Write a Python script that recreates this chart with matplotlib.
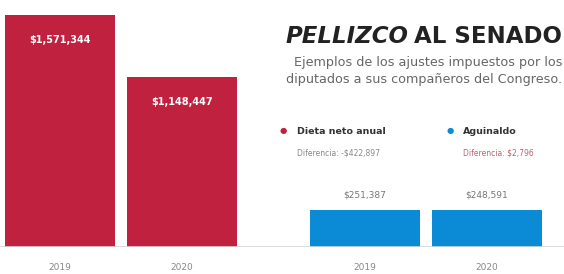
import matplotlib.pyplot as plt

# data
years = ['2019', '2020', '2019', '2020']
dieta = [1571344, 1148447]
aguinaldo = [251387, 248591]
dieta_labels = ['$1,571,344', '$1,148,447']
aguinaldo_labels = ['$251,387', '$248,591']
dif_dieta = 'Diferencia: -$422,897'
dif_aguinaldo = 'Diferencia: $2,796'

red = '#c0213f'
blue = '#0b8bd6'
W, H = 564, 274

fig = plt.figure(figsize=(W / 100, H / 100), dpi=100)
fig.patch.set_facecolor('white')

# bars share one axes; baseline at 247px from top
ax = fig.add_axes([0, 27 / H, 1, 232 / H])
xpos = [0, 1, 2.5, 3.5]
ax.set_xlim(-60 / 122, -60 / 122 + W / 122)
ax.set_ylim(0, dieta[0])
ax.bar(xpos[:2], dieta, width=0.9, color=red)
ax.bar(xpos[2:], aguinaldo, width=0.9, color=blue)
ax.axhline(0, color='#d5d5d5', lw=1.2)
ax.axis('off')

for x, v, lab in zip(xpos[:2], dieta, dieta_labels):
    ax.annotate(lab, (x, v), xytext=(0, -25), textcoords='offset pixels',
                ha='center', va='center', color='white', fontsize=7, fontweight='bold')
for x, v, lab in zip(xpos[2:], aguinaldo, aguinaldo_labels):
    ax.annotate(lab, (x, v), xytext=(0, 15), textcoords='offset pixels',
                ha='center', va='center', color='#777777', fontsize=6.5)
for x, y in zip(xpos, years):
    ax.annotate(y, (x, 0), xytext=(0, -20), textcoords='offset pixels',
                ha='center', va='center', color='#888888', fontsize=6.5, annotation_clip=False)

# title: italic part placed right before the upright part
t2 = fig.text(562 / W, 1 - 36 / H, 'AL SENADO', ha='right', va='center',
              fontsize=16.5, fontweight='bold', color='#222222')
fig.canvas.draw()
bb = t2.get_window_extent()
fig.text((bb.x0 - 6) / W, 1 - 36 / H, 'PELLIZCO', ha='right', va='center',
         fontsize=16.5, fontweight='bold', style='italic', color='#222222')
fig.text(562 / W, 1 - 62 / H, 'Ejemplos de los ajustes impuestos por los',
         ha='right', va='center', fontsize=9.2, color='#666666')
fig.text(562 / W, 1 - 80 / H, 'diputados a sus compañeros del Congreso.',
         ha='right', va='center', fontsize=9.2, color='#666666')

fig.text(283 / W, 1 - 131 / H, '●', ha='center', va='center', fontsize=6, color=red)
fig.text(297 / W, 1 - 131 / H, 'Dieta neto anual', ha='left', va='center',
         fontsize=6.8, fontweight='bold', color='#333333')
fig.text(450 / W, 1 - 131 / H, '●', ha='center', va='center', fontsize=6, color=blue)
fig.text(463 / W, 1 - 131 / H, 'Aguinaldo', ha='left', va='center',
         fontsize=6.8, fontweight='bold', color='#333333')
fig.text(297 / W, 1 - 153 / H, dif_dieta, ha='left', va='center',
         fontsize=5.5, color='#888888')
fig.text(463 / W, 1 - 153 / H, dif_aguinaldo, ha='left', va='center',
         fontsize=5.5, color='#c06070')

fig.savefig('out.png', dpi=100)
